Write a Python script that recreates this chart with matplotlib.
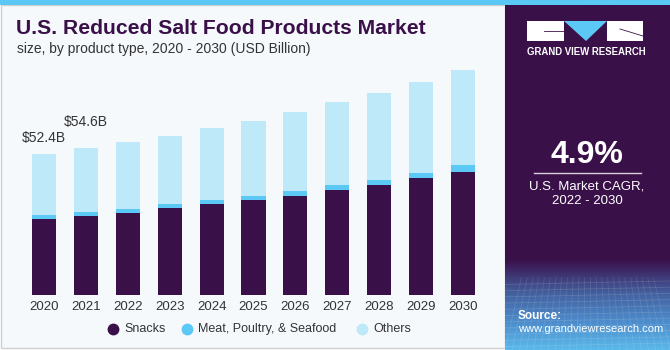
import numpy as np
import matplotlib.pyplot as plt
from matplotlib.patches import Rectangle, Polygon
from matplotlib.lines import Line2D
from matplotlib.colors import LinearSegmentedColormap

plt.rcParams['font.family'] = ['Liberation Sans', 'DejaVu Sans']

# Data (USD Billion)
years = ['2020', '2021', '2022', '2023', '2024', '2025', '2026', '2027', '2028', '2029', '2030']
snacks = [28.2, 29.2, 30.5, 32.3, 33.8, 35.2, 36.9, 38.9, 41.0, 43.5, 45.8]
meat = [1.5, 1.5, 1.5, 1.4, 1.6, 1.6, 1.6, 1.9, 1.9, 1.9, 2.4]
others = [22.7, 23.9, 24.8, 25.5, 26.6, 27.9, 29.4, 30.8, 32.4, 33.8, 35.4]
labels = {0: '$52.4B', 1: '$54.6B'}

c_snacks = '#3a1049'
c_meat = '#5bc8f5'
c_others = '#bde9f9'
c_bg = '#f5f9fc'

W, H = 670, 350
fig = plt.figure(figsize=(6.7, 3.5), dpi=100)
fig.patch.set_facecolor('white')

def fx(px):
    return px / W

def fy(py):
    return 1 - py / H

# background of the left panel
fig.patches.append(Rectangle((fx(1), fy(348)), fx(504), 343 / H, transform=fig.transFigure,
                             facecolor=c_bg, edgecolor='#d0d0d0', lw=1.0, zorder=-10))
# top stripe
fig.patches.append(Rectangle((0, fy(5)), 1, 5 / H, transform=fig.transFigure,
                             facecolor='#5ac8f5', edgecolor='none', zorder=-9))

# right panel with gradient at bottom
pan = fig.add_axes([fx(505), 0, fx(165), fy(5)])
pan.set_xlim(0, 1)
pan.set_ylim(0, 1)
pan.axis('off')
grad = np.linspace(0, 1, 256).reshape(-1, 1)
cmap = LinearSegmentedColormap.from_list(
    'p', [(0, '#5ab8ea'), (0.08, '#4d8ccc'), (0.16, '#4462a0'), (0.21, '#3f3a78'),
          (0.26, '#3a1049'), (1, '#3a1049')])
pan.imshow(grad, extent=[0, 1, 0, 1], aspect='auto', cmap=cmap, origin='lower')

# grid texture hint
for k in range(11):
    yy = 0.01 + k * 0.018
    pan.plot([0, 1], [yy, yy + 0.01], color='white', alpha=0.13, lw=0.6)
for k in range(24):
    xx = k / 23
    pan.plot([xx, 0.5 + (xx - 0.5) * 0.8], [0, 0.21], color='white', alpha=0.11, lw=0.6)

# logo
fig.patches.append(Rectangle((fx(527), fy(41)), fx(37), 20 / H, transform=fig.transFigure,
                             facecolor='white', edgecolor='none', zorder=5))
fig.patches.append(Polygon([(fx(564), fy(21)), (fx(607), fy(21)), (fx(586), fy(41))],
                           closed=True, transform=fig.transFigure,
                           facecolor='#5bc8f5', edgecolor='none', zorder=5))
fig.patches.append(Rectangle((fx(607), fy(41)), fx(36), 20 / H, transform=fig.transFigure,
                             facecolor='white', edgecolor='none', zorder=5))
fig.lines.append(Line2D([fx(544), fx(564)], [fy(31), fy(31)], transform=fig.transFigure,
                        color=c_snacks, lw=0.6, zorder=6))
fig.lines.append(Line2D([fx(620), fx(643)], [fy(29), fy(36)], transform=fig.transFigure,
                        color=c_snacks, lw=0.6, zorder=6))
fig.text(fx(586), fy(52), 'GRAND VIEW RESEARCH', color='white', fontsize=6.9,
         fontweight='bold', ha='center', va='center')

fig.text(fx(587), fy(155), '4.9%', color='white', fontsize=23, fontweight='bold',
         ha='center', va='center')
fig.lines.append(Line2D([fx(534), fx(641)], [fy(173), fy(173)], transform=fig.transFigure,
                        color='#d8d0dc', lw=1.0))
fig.text(fx(587), fy(186), 'U.S. Market CAGR,', color='white', fontsize=9.5,
         ha='center', va='center')
fig.text(fx(587), fy(201), '2022 - 2030', color='white', fontsize=9.5,
         ha='center', va='center')
fig.text(fx(518), fy(316), 'Source:', color='white', fontsize=8.5, fontweight='bold',
         ha='left', va='center')
fig.text(fx(518), fy(329), 'www.grandviewresearch.com', color='white', fontsize=8,
         ha='left', va='center')

# titles
fig.text(fx(16), fy(28), 'U.S. Reduced Salt Food Products Market', color=c_snacks,
         fontsize=15.2, fontweight='bold', ha='left', va='center')
fig.text(fx(17), fy(49), 'size, by product type, 2020 - 2030 (USD Billion)', color='#333333',
         fontsize=10, ha='left', va='center')

# bar chart
ax = fig.add_axes([fx(23), fy(295), fx(461), 235 / H])
ax.set_zorder(3)
ax.set_facecolor('none')
x = np.arange(len(years))
bw = 24 / 41.9
snacks_a = np.array(snacks)
meat_a = np.array(meat)
others_a = np.array(others)
ax.bar(x, snacks_a, width=bw, color=c_snacks, edgecolor='none')
ax.bar(x, meat_a, width=bw, bottom=snacks_a, color=c_meat, edgecolor='none')
ax.bar(x, others_a, width=bw, bottom=snacks_a + meat_a, color=c_others, edgecolor='none')
totals = snacks_a + meat_a + others_a
label_offsets = {0: 6.0, 1: 9.9}
for i, txt in labels.items():
    ax.text(x[i], totals[i] + label_offsets[i], txt, ha='center', va='center',
            fontsize=10, color='#333333')
ax.set_xlim(-0.5, len(years) - 0.5)
ax.set_ylim(0, 87.4)
ax.set_xticks(x)
ax.set_xticklabels(years, fontsize=9.5, color='#333333')
ax.tick_params(axis='x', length=0, pad=4)
ax.set_yticks([])
for s in ax.spines.values():
    s.set_visible(False)

# legend
leg_items = [('Snacks', c_snacks, 113), ('Meat, Poultry, & Seafood', c_meat, 187),
             ('Others', c_others, 362)]
for name, col, px in leg_items:
    fig.lines.append(Line2D([fx(px)], [fy(329)], transform=fig.transFigure, marker='o',
                            markersize=7.5, color=col, linestyle='none'))
    fig.text(fx(px + 11), fy(329), name, fontsize=9, color='#333333', ha='left', va='center')

fig.savefig('out.png', dpi=100)
